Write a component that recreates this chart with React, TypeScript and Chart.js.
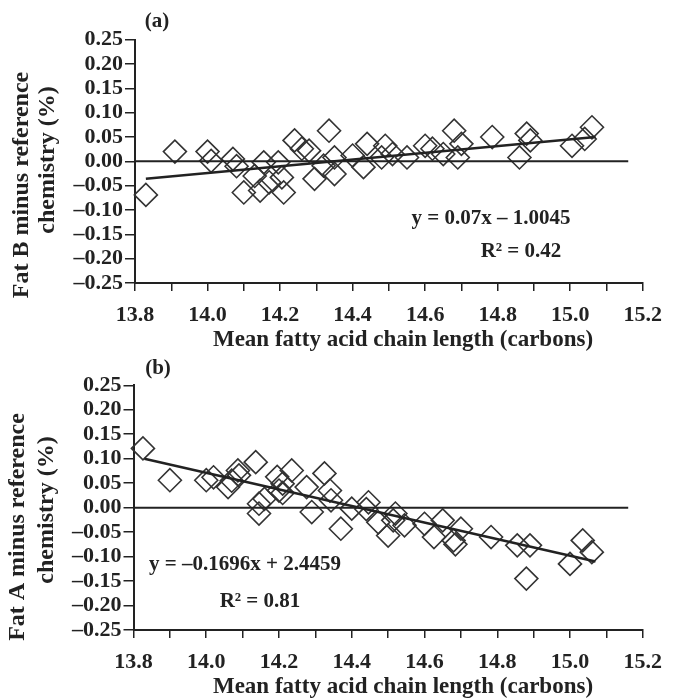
import React, { useEffect, useRef } from "react";
import { Chart, registerables } from "chart.js";
Chart.register(...registerables);

const FONT = '"Liberation Serif", "DejaVu Serif", serif';
const INK = "#222";

// ---- data: panel (a) Fat B ----
const fatBX = [13.83, 13.91, 14.0, 14.01, 14.07, 14.08, 14.1, 14.13, 14.155, 14.145, 14.17, 14.195, 14.205, 14.21, 14.24, 14.26, 14.28, 14.295, 14.335, 14.32, 14.35, 14.35, 14.4, 14.43, 14.44, 14.48, 14.49, 14.51, 14.55, 14.6, 14.62, 14.65, 14.68, 14.69, 14.7, 14.785, 14.86, 14.88, 14.89, 15.005, 15.04, 15.06];
const fatBY = [-0.069, 0.02, 0.02, 0.001, 0.005, -0.01, -0.064, -0.03, -0.002, -0.06, -0.043, -0.002, -0.033, -0.064, 0.043, 0.026, 0.022, -0.036, 0.063, -0.009, -0.026, 0.008, 0.012, -0.012, 0.036, 0.008, 0.032, 0.015, 0.008, 0.032, 0.026, 0.015, 0.063, 0.008, 0.036, 0.05, 0.008, 0.057, 0.043, 0.032, 0.046, 0.07];
const fitBX = [13.83, 15.07];
const fitBY = [-0.036, 0.05];

// ---- data: panel (b) Fat A ----
const fatAX = [13.826, 13.9, 14.0, 14.02, 14.06, 14.07, 14.087, 14.09, 14.136, 14.145, 14.145, 14.16, 14.195, 14.2, 14.21, 14.235, 14.21, 14.276, 14.29, 14.325, 14.34, 14.343, 14.37, 14.4, 14.446, 14.44, 14.473, 14.5, 14.514, 14.52, 14.545, 14.6, 14.626, 14.65, 14.68, 14.685, 14.7, 14.783, 14.855, 14.89, 14.88, 15.0, 15.035, 15.06];
const fatAY = [0.121, 0.056, 0.056, 0.062, 0.042, 0.055, 0.076, 0.066, 0.093, 0.008, -0.012, 0.018, 0.063, 0.035, 0.049, 0.076, 0.03, 0.042, -0.009, 0.07, 0.035, 0.015, -0.043, -0.002, 0.011, -0.003, -0.03, -0.057, -0.026, -0.012, -0.036, -0.033, -0.06, -0.026, -0.067, -0.075, -0.043, -0.06, -0.077, -0.077, -0.145, -0.115, -0.067, -0.091];
const fitAX = [13.83, 15.07];
const fitAY = [0.1, -0.11];

// zero reference line
const zeroX = [13.8, 15.16];
const zeroY = [0, 0];

// axes
const xMin = 13.8;
const xMax = 15.2;
const xStep = 0.1;
const yMin = -0.25;
const yMax = 0.25;
const yStep = 0.05;
const xTitle = "Mean fatty acid chain length (carbons)";

type Txt = { text: string; x: number; y: number; size: number; rot?: boolean; align?: CanvasTextAlign };

function fmtY(v: number) {
  if (Math.abs(v) < 1e-9) return "0.00";
  const s = Math.abs(v).toFixed(2);
  return v < 0 ? "\u2013" + s : s;
}

function pts(xs: number[], ys: number[]) {
  return xs.map((x, i) => ({ x, y: ys[i] }));
}

type PanelProps = {
  top: number;
  height: number;
  plotLeft: number;
  plotRight: number;
  plotTop: number;
  plotBottom: number;
  xs: number[];
  ys: number[];
  fx: number[];
  fy: number[];
  texts: Txt[];
};

function Panel(p: PanelProps) {
  const ref = useRef<HTMLCanvasElement | null>(null);
  useEffect(() => {
    if (!ref.current) return;
    const texts = p.texts;
    const textPlugin = {
      id: "panelTexts",
      afterDraw(chart: any) {
        const ctx = chart.ctx as CanvasRenderingContext2D;
        ctx.save();
        ctx.fillStyle = INK;
        ctx.textBaseline = "middle";
        for (const t of texts) {
          ctx.save();
          ctx.translate(t.x, t.y);
          if (t.rot) ctx.rotate(-Math.PI / 2);
          ctx.font = `bold ${t.size}px ${FONT}`;
          ctx.textAlign = t.align || "center";
          ctx.fillText(t.text, 0, 0);
          ctx.restore();
        }
        ctx.restore();
      },
    };
    const tickFont = { family: FONT, size: 22, weight: "bold" as const };
    const chart = new Chart(ref.current, {
      type: "scatter",
      data: {
        datasets: [
          {
            type: "line",
            data: pts(zeroX, zeroY),
            borderColor: INK,
            borderWidth: 2,
            pointRadius: 0,
            showLine: true,
            fill: false,
          } as any,
          {
            type: "line",
            data: pts(p.fx, p.fy),
            borderColor: INK,
            borderWidth: 2.5,
            pointRadius: 0,
            showLine: true,
            fill: false,
          } as any,
          {
            data: pts(p.xs, p.ys),
            pointStyle: "rectRot",
            pointRadius: 11.5,
            pointBorderWidth: 1.6,
            pointBorderColor: "#333",
            pointBackgroundColor: "rgba(0,0,0,0)",
            borderColor: "#333",
            backgroundColor: "rgba(0,0,0,0)",
            clip: false,
          } as any,
        ],
      },
      options: {
        responsive: false,
        animation: false,
        events: [],
        layout: { padding: { top: p.plotTop, right: 673 - p.plotRight, left: 0, bottom: 0 } },
        plugins: { legend: { display: false }, tooltip: { enabled: false } },
        scales: {
          x: {
            type: "linear",
            min: xMin,
            max: xMax,
            afterFit: (s: any) => {
              s.height = p.height - p.plotBottom;
            },
            ticks: {
              stepSize: xStep,
              autoSkip: false,
              maxRotation: 0,
              padding: 11,
              color: INK,
              font: tickFont,
              callback: (v: any, i: number) => (i % 2 === 0 ? Number(v).toFixed(1) : ""),
            },
            grid: { drawOnChartArea: false, drawTicks: true, tickLength: 8, color: INK, lineWidth: 1.5 },
            border: { display: true, color: INK, width: 2 },
          },
          y: {
            type: "linear",
            min: yMin,
            max: yMax,
            afterFit: (s: any) => {
              s.width = p.plotLeft;
            },
            ticks: {
              stepSize: yStep,
              autoSkip: false,
              padding: 2,
              color: INK,
              font: tickFont,
              callback: (v: any) => fmtY(Number(v)),
            },
            grid: { drawOnChartArea: false, drawTicks: true, tickLength: 10, color: INK, lineWidth: 1.5 },
            border: { display: true, color: INK, width: 2 },
          },
        },
      },
      plugins: [textPlugin],
    });
    return () => chart.destroy();
  }, []);
  return (
    <canvas
      ref={ref}
      width={673}
      height={p.height}
      style={{ position: "absolute", left: 0, top: p.top, width: 673, height: p.height, display: "block" }}
    />
  );
}

export default function App() {
  const textsA: Txt[] = [
    { text: "(a)", x: 157, y: 22, size: 21 },
    { text: "Fat B minus reference", x: 22, y: 185, size: 24, rot: true },
    { text: "chemistry (%)", x: 48, y: 160, size: 24, rot: true },
    { text: "y = 0.07x \u2013 1.0045", x: 491, y: 219, size: 21 },
    { text: "R\u00B2 = 0.42", x: 521, y: 252, size: 21 },
    { text: xTitle, x: 403, y: 340, size: 23 },
  ];
  const textsB: Txt[] = [
    { text: "(b)", x: 158, y: 29, size: 21 },
    { text: "Fat A minus reference", x: 18, y: 187, size: 24, rot: true },
    { text: "chemistry (%)", x: 47, y: 170, size: 24, rot: true },
    { text: "y = \u20130.1696x + 2.4459", x: 245, y: 225, size: 21 },
    { text: "R\u00B2 = 0.81", x: 260, y: 262, size: 21 },
    { text: xTitle, x: 403, y: 347, size: 23 },
  ];
  return (
    <div style={{ position: "absolute", left: 0, top: 0, width: 673, height: 698, background: "#fff", overflow: "hidden" }}>
      <Panel top={0} height={358} plotLeft={135} plotRight={653} plotTop={39.7} plotBottom={283} xs={fatBX} ys={fatBY} fx={fitBX} fy={fitBY} texts={textsA} />
      <Panel top={340} height={358} plotLeft={133.5} plotRight={653} plotTop={45.3} plotBottom={290} xs={fatAX} ys={fatAY} fx={fitAX} fy={fitAY} texts={textsB} />
    </div>
  );
}
